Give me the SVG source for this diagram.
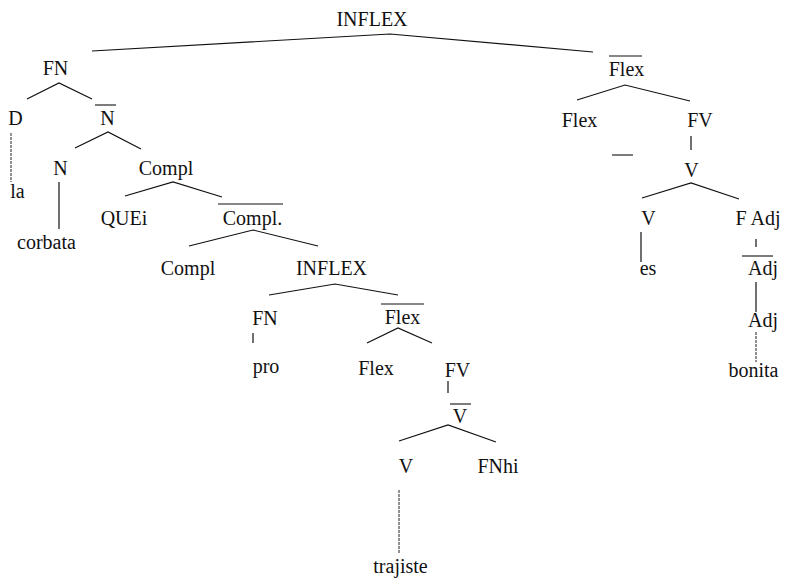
<svg xmlns="http://www.w3.org/2000/svg" width="788" height="579" viewBox="0 0 788 579" font-family="'Liberation Serif', 'Times New Roman', 'DejaVu Serif', serif">
<style>
text{font-family:'Liberation Serif','Times New Roman','DejaVu Serif',serif;font-size:20px;fill:#111;text-anchor:middle}
.e{stroke:#111;stroke-width:1.2;fill:none}
.d{stroke:#222;stroke-width:1;stroke-dasharray:3 1;fill:none}
.bar{stroke:#111;stroke-width:1.1}
</style>
<rect width="788" height="579" fill="#fff"/>
<g id="connectors">
<polyline class="e" points="92,51 390,34 593,52"/>
<polyline class="e" points="27,99 59,83 92,99"/>
<polyline class="e" points="577,100 625,85 690,101"/>
<line class="e" x1="691" y1="136" x2="691" y2="150"/>
<polyline class="e" points="642,198 691,183 739,199"/>
<line class="d" x1="11" y1="133" x2="11" y2="182"/>
<polyline class="e" points="75,148 108,132 141,149"/>
<line class="e" x1="59" y1="182" x2="59" y2="229"/>
<polyline class="e" points="125,196 173,182 222,197"/>
<polyline class="e" points="189,246 253,230 318,246"/>
<polyline class="e" points="269,295 335,284 398,295"/>
<line class="e" x1="253" y1="333" x2="253" y2="343"/>
<polyline class="e" points="367,343 398,328 432,343"/>
<line class="e" x1="448" y1="381" x2="448" y2="393"/>
<polyline class="e" points="399,441 448,425 496,442"/>
<line class="d" x1="399" y1="490" x2="399" y2="553"/>
<line class="e" x1="641" y1="232" x2="641" y2="262"/>
<line class="e" x1="756" y1="239" x2="756" y2="247"/>
<line class="e" x1="756" y1="282" x2="756" y2="312"/>
<line class="d" x1="756" y1="332" x2="756" y2="362"/>
</g>
<g id="n-inflex-root"><text x="372" y="26">INFLEX</text></g>
<g id="n-fn"><text x="55.5" y="75">FN</text></g>
<g id="n-flexbar-r"><line class="bar" x1="609" y1="56" x2="642" y2="56"/><text x="626.5" y="76">Flex</text></g>
<g id="n-d"><text x="15.5" y="125">D</text></g>
<g id="n-nbar"><line class="bar" x1="95" y1="105" x2="116" y2="105"/><text x="107.5" y="125">N</text></g>
<g id="n-flex-r"><text x="579.5" y="127">Flex</text><line class="bar" x1="612" y1="155" x2="633" y2="155"/></g>
<g id="n-fv-r"><text x="700" y="127">FV</text></g>
<g id="n-v-r"><text x="691.5" y="177">V</text></g>
<g id="n-n"><text x="60.5" y="175">N</text></g>
<g id="n-compl-top"><text x="166" y="175">Compl</text></g>
<g id="n-la"><text x="17.5" y="198">la</text></g>
<g id="n-quei"><text x="124" y="225">QUEi</text></g>
<g id="n-complbar"><line class="bar" x1="218" y1="204" x2="283" y2="204"/><text x="252.5" y="225">Compl.</text></g>
<g id="n-v-r2"><text x="648.5" y="225">V</text></g>
<g id="n-fadj"><text x="758" y="225">F Adj</text></g>
<g id="n-corbata"><text x="46.5" y="249">corbata</text></g>
<g id="n-compl"><text x="188" y="275">Compl</text></g>
<g id="n-inflex2"><text x="331.5" y="275">INFLEX</text></g>
<g id="n-es"><text x="648" y="275">es</text></g>
<g id="n-adjbar"><line class="bar" x1="742" y1="256" x2="773" y2="256"/><text x="763" y="275">Adj</text></g>
<g id="n-fn2"><text x="265" y="325">FN</text></g>
<g id="n-flexbar2"><line class="bar" x1="381" y1="304" x2="424" y2="304"/><text x="402.5" y="324">Flex</text></g>
<g id="n-adj"><text x="763" y="327">Adj</text></g>
<g id="n-pro"><text x="266" y="373">pro</text></g>
<g id="n-flex2"><text x="376" y="375">Flex</text></g>
<g id="n-fv2"><text x="457.5" y="377">FV</text></g>
<g id="n-bonita"><text x="753.5" y="377">bonita</text></g>
<g id="n-vbar"><line class="bar" x1="450" y1="404" x2="471" y2="404"/><text x="460" y="423">V</text></g>
<g id="n-v2"><text x="406" y="473">V</text></g>
<g id="n-fnhi"><text x="498" y="473">FNhi</text></g>
<g id="n-trajiste"><text x="400.5" y="573">trajiste</text></g>
</svg>
